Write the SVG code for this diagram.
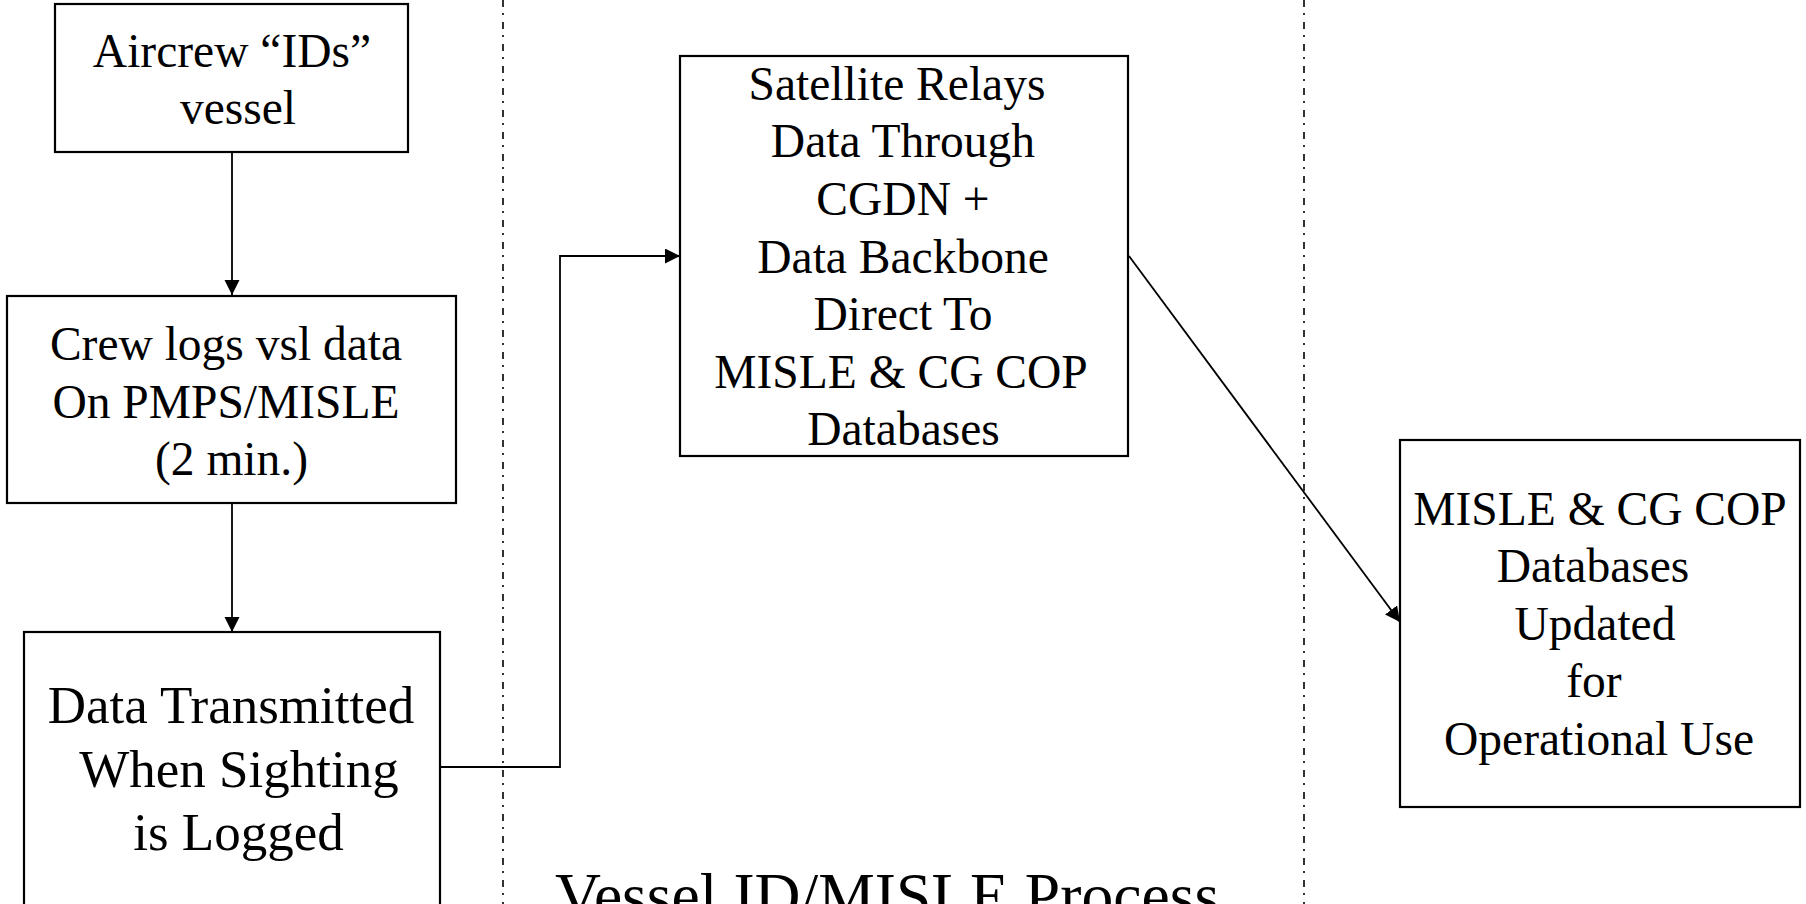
<svg xmlns="http://www.w3.org/2000/svg" width="1806" height="904" viewBox="0 0 1806 904">
  <style>
    .box { fill: #ffffff; stroke: #000000; stroke-width: 2.2; }
    .t { font-family: "Liberation Serif", "Times New Roman", serif; font-size: 47.5px; fill: #000000; text-anchor: middle; }
    .tb { font-size: 53px; }
    .title { font-family: "Liberation Serif", "Times New Roman", serif; font-size: 63.6px; fill: #000000; }
    .conn { fill: none; stroke: #000000; stroke-width: 1.8; }
    .divider { fill: none; stroke: #000000; stroke-width: 1.6; stroke-dasharray: 7 6 2 7; }
  </style>
  <defs>
    <marker id="arrow" markerUnits="userSpaceOnUse" markerWidth="16" markerHeight="16" refX="15" refY="7.5" orient="auto">
      <path d="M0,0 L15,7.5 L0,15 Z" fill="#000000"/>
    </marker>
  </defs>
  <rect width="1806" height="904" fill="#ffffff"/>

  <g id="dividers">
    <line class="divider" x1="503" y1="0" x2="503" y2="904"/>
    <line class="divider" x1="1304" y1="0" x2="1304" y2="904"/>
  </g>

  <g id="connectors">
    <path class="conn" d="M232,152 V295" marker-end="url(#arrow)"/>
    <path class="conn" d="M232,503 V632" marker-end="url(#arrow)"/>
    <path class="conn" d="M440,767 H560 V256 H680" marker-end="url(#arrow)"/>
    <path class="conn" d="M1129,256 L1400,622" marker-end="url(#arrow)"/>
  </g>

  <g id="node-aircrew">
    <rect class="box" x="55" y="4" width="353" height="148"/>
    <text class="t" x="232" y="67">Aircrew “IDs”</text>
    <text class="t" x="238" y="124">vessel</text>
  </g>

  <g id="node-crew-logs">
    <rect class="box" x="7" y="296" width="449" height="207"/>
    <text class="t" x="226" y="360">Crew logs vsl data</text>
    <text class="t" x="226" y="418">On PMPS/MISLE</text>
    <text class="t" x="231.5" y="475">(2 min.)</text>
  </g>

  <g id="node-transmitted">
    <rect class="box" x="24" y="632" width="416" height="280"/>
    <text class="t tb" x="231" y="723">Data Transmitted</text>
    <text class="t tb" x="239" y="787">When Sighting</text>
    <text class="t tb" x="238.5" y="850">is Logged</text>
  </g>

  <g id="node-satellite">
    <rect class="box" x="680" y="56" width="448" height="400"/>
    <text class="t" x="897" y="100">Satellite Relays</text>
    <text class="t" x="903" y="157">Data Through</text>
    <text class="t" x="903" y="215">CGDN +</text>
    <text class="t" x="903" y="273">Data Backbone</text>
    <text class="t" x="903" y="330">Direct To</text>
    <text class="t" x="901" y="388">MISLE &amp; CG COP</text>
    <text class="t" x="903.5" y="445">Databases</text>
  </g>

  <g id="node-updated">
    <rect class="box" x="1400" y="440" width="400" height="367"/>
    <text class="t" x="1600" y="525">MISLE &amp; CG COP</text>
    <text class="t" x="1593" y="582">Databases</text>
    <text class="t" x="1595" y="640">Updated</text>
    <text class="t" x="1594" y="697">for</text>
    <text class="t" x="1599" y="755">Operational Use</text>
  </g>

  <g id="title">
    <text class="title" x="555" y="917">Vessel ID/MISLE Process</text>
  </g>
</svg>
